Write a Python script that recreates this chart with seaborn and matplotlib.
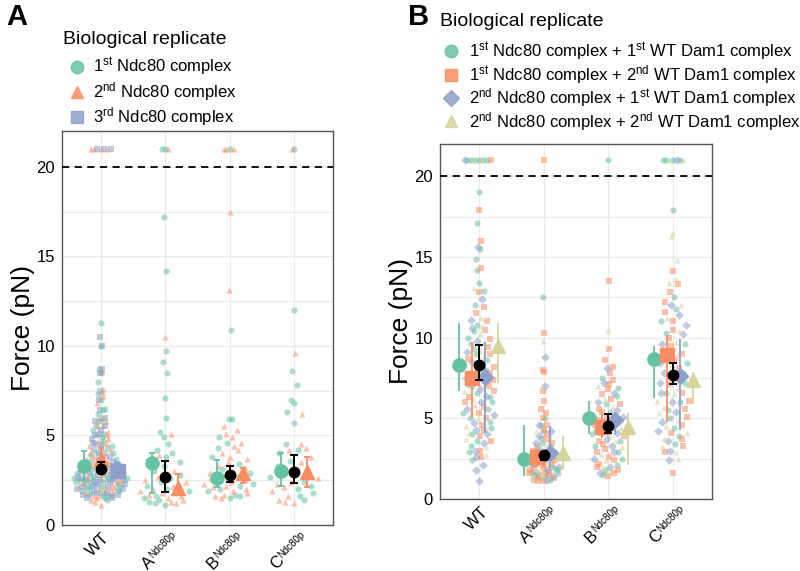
# plot.py
# Rupture force per Ndc80 variant, split by biological replicate (panels A and B)

import numpy as np
import pandas as pd
import matplotlib
matplotlib.use("Agg")
import matplotlib.pyplot as plt
from matplotlib.lines import Line2D
from matplotlib.collections import PathCollection
import seaborn as sns

categories = ["WT", "A", "B", "C"]
tick_base = ["WT", "A", "B", "C"]
tick_sup = ["", "Ndc80p", "Ndc80p", "Ndc80p"]

# ── Panel A: raw forces (values > 20 pN drawn at 21) ─────────────────────────
a_wt_1 = [11.3, 10.0, 8.7, 8.5, 8.0, 7.3, 7.0, 6.5, 6.4, 6.2, 5.9, 5.8, 5.6, 5.3, 5.1, 5.0, 4.9, 4.7, 4.5, 4.4,
          4.3, 4.1, 4.0, 3.9, 3.8, 3.7, 3.6, 3.5, 3.5, 3.4, 3.3, 3.3, 3.2, 3.1, 3.1, 3.0, 3.0, 2.9, 2.9, 2.8,
          2.8, 2.7, 2.7, 2.6, 2.6, 2.5, 2.5, 2.5, 2.5, 2.4, 2.4, 2.4, 2.3, 2.3, 2.2, 2.2, 2.1, 2.1, 2.0, 2.0,
          1.9, 1.9, 1.8, 1.8, 1.7, 1.7, 1.6, 1.5, 1.4]
a_wt_2 = [21, 21, 21, 21, 8.6, 7.6, 7.4, 7.2, 6.8, 6.0, 5.8, 5.6, 5.5, 5.2, 5.0, 4.8, 4.7, 4.6, 4.4, 4.2,
          4.0, 3.9, 3.8, 3.7, 3.6, 3.5, 3.4, 3.4, 3.3, 3.2, 3.1, 3.0, 3.0, 2.9, 2.8, 2.8, 2.7, 2.6, 2.6, 2.5,
          2.4, 2.4, 2.3, 2.2, 2.2, 2.1, 2.0, 2.0, 1.9, 1.8, 1.8, 1.7, 1.6, 1.5, 1.4, 1.3, 1.1]
a_wt_3 = [21, 21, 21, 10.5, 10.0, 8.7, 8.5, 7.5, 7.0, 6.4, 6.0, 5.8, 5.5, 5.3, 5.1, 5.0, 4.8, 4.6, 4.5, 4.3,
          4.2, 4.0, 3.9, 3.8, 3.6, 3.5, 3.4, 3.3, 3.2, 3.1, 3.0, 3.0, 2.9, 2.8, 2.8, 2.7, 2.6, 2.6, 2.5, 2.5,
          2.5, 2.4, 2.4, 2.3, 2.3, 2.2, 2.1, 2.1, 2.0, 2.0, 1.9, 1.8, 1.8, 1.7, 1.7, 1.6, 1.5, 1.5]
a_a_1 = [21, 21, 17.2, 14.2, 9.7, 9.1, 8.5, 7.1, 6.0, 5.2, 4.9, 4.5, 4.2, 4.0, 3.8, 3.5, 3.3, 3.0, 2.8, 2.6,
         2.4, 2.2, 2.0, 1.9, 1.8, 1.6, 1.5, 1.4, 1.3, 1.2, 1.1]
a_a_2 = [21, 10.5, 5.1, 3.9, 3.5, 3.0, 2.7, 2.5, 2.4, 2.2, 2.1, 2.0, 1.9, 1.8, 1.7, 1.6, 1.5, 1.4, 1.3, 1.2]
a_b_1 = [21, 10.9, 5.9, 5.9, 4.9, 4.6, 4.3, 3.8, 3.4, 3.1, 2.9, 2.7, 2.5, 2.3, 2.2, 2.0, 1.9, 1.7, 1.6, 1.5]
a_b_2 = [21, 21, 21, 17.5, 13.1, 5.5, 5.3, 5.1, 4.9, 4.6, 4.4, 4.2, 4.0, 3.8, 3.7, 3.5, 3.3, 3.2, 3.0, 2.9,
         2.8, 2.6, 2.5, 2.4, 2.3, 2.2, 2.1, 2.0, 1.9, 1.8, 1.7, 1.6, 1.5]
a_c_1 = [21, 12.0, 8.6, 7.8, 7.0, 6.8, 6.3, 5.7, 4.5, 4.2, 4.0, 3.6, 3.3, 3.0, 2.7, 2.4, 2.2, 2.0, 1.8, 1.6, 1.4]
a_c_2 = [21, 9.6, 6.2, 4.5, 4.3, 4.2, 3.8, 3.5, 3.2, 2.9, 2.6, 2.4, 2.3, 2.1, 1.9, 1.6, 1.4, 1.3, 1.2]

# replicate summaries (marker, lower, upper) per category
a_mean_1, a_lo_1, a_hi_1 = [3.3, 3.45, 2.65, 3.0], [2.5, 1.8, 2.1, 2.2], [4.15, 4.0, 3.65, 4.0]
a_mean_2, a_lo_2, a_hi_2 = [3.7, 2.05, 2.9, 2.95], [3.2, 1.65, 2.35, 2.1], [4.3, 2.85, 3.2, 3.8]
a_mean_3, a_lo_3, a_hi_3 = [3.0, np.nan, np.nan, np.nan], [2.6, np.nan, np.nan, np.nan], [3.45, np.nan, np.nan, np.nan]
a_all, a_all_lo, a_all_hi = [3.15, 2.7, 2.8, 2.95], [2.9, 1.85, 2.4, 2.35], [3.5, 3.55, 3.3, 3.9]

# ── Panel B ──────────────────────────────────────────────────────────────────
b_wt_1 = [21, 21, 21, 21, 21, 21, 19.0, 17.1, 15.5, 14.9, 14.2, 13.4, 12.9, 12.0, 10.8, 10.4, 10.0, 9.6, 9.3,
          9.0, 8.6, 8.3, 8.0, 7.7, 7.3, 7.0, 6.6, 6.3, 6.0, 5.6, 5.3, 5.0, 4.8, 4.4, 4.0, 3.6, 3.3, 2.9, 2.4]
b_wt_2 = [21, 17.9, 16.0, 14.3, 12.8, 11.9, 11.5, 11.0, 10.5, 9.9, 9.4, 9.0, 8.7, 8.2, 7.8, 7.4, 7.0, 6.7,
          6.3, 6.0, 5.7, 5.3, 5.0, 4.6, 4.3, 3.9, 3.6, 3.0, 2.6]
b_wt_3 = [21, 15.6, 12.4, 11.1, 10.6, 9.8, 9.1, 8.5, 8.0, 7.5, 7.1, 6.8, 6.4, 6.0, 5.6, 5.2, 4.7, 4.3, 4.0,
          3.5, 3.0, 2.6, 2.1, 1.8, 1.1]
b_wt_4 = [21, 21, 13.1, 11.2, 10.7, 10.2, 9.7, 9.2, 8.8, 8.4, 7.9, 7.5, 7.1, 6.7, 6.2, 5.8, 5.4, 5.0, 4.5,
          4.1, 3.7, 3.2, 2.7]
b_a_1 = [12.5, 5.0, 4.6, 4.2, 3.8, 3.5, 3.2, 2.9, 2.6, 2.4, 2.2, 2.0, 1.9, 1.8, 1.7, 1.6, 1.5, 1.4, 1.3, 1.2]
b_a_2 = [21, 10.3, 8.0, 7.9, 6.7, 6.1, 5.6, 5.3, 5.0, 4.6, 4.3, 4.0, 3.7, 3.5, 3.2, 3.0, 2.8, 2.6, 2.4, 2.2,
         2.1, 2.0, 1.9, 1.8, 1.7, 1.6, 1.6, 1.5, 1.4, 1.3, 1.2, 1.1, 1.1]
b_a_3 = [8.8, 7.0, 4.6, 4.2, 3.9, 3.5, 3.1, 2.8, 2.5, 2.2, 2.0, 1.8, 1.6, 1.4, 1.2]
b_a_4 = [9.8, 7.0, 4.2, 3.8, 3.4, 3.0, 2.7, 2.4, 2.2, 2.0, 1.8, 1.7, 1.6, 1.5, 1.3]
b_b_1 = [21, 7.5, 6.9, 6.4, 5.9, 5.4, 5.0, 4.7, 4.3, 4.0, 3.6, 3.3, 2.9, 2.5, 2.1, 1.8, 1.5]
b_b_2 = [13.5, 9.3, 8.6, 8.2, 7.8, 7.4, 7.1, 6.8, 6.5, 6.2, 5.9, 5.6, 5.4, 5.1, 4.9, 4.6, 4.4, 4.1, 3.9,
         3.6, 3.4, 3.1, 2.9, 2.6, 2.4, 2.2, 2.0, 1.8, 1.6, 1.4]
b_b_3 = [8.1, 7.2, 6.6, 6.0, 5.5, 5.1, 4.8, 4.4, 4.1, 3.7, 3.3, 2.9, 2.5, 2.0, 1.6]
b_b_4 = [10.5, 7.0, 6.2, 5.7, 5.2, 4.8, 4.4, 4.0, 3.6, 3.2, 2.8, 2.4, 2.0, 1.7]
b_c_1 = [21, 21, 21, 21, 17.9, 12.5, 11.8, 11.0, 10.3, 9.6, 9.0, 8.4, 7.8, 7.2, 6.6, 6.0, 5.5, 5.0, 4.4, 3.9, 3.4]
b_c_2 = [14.1, 13.3, 12.8, 12.2, 11.6, 11.0, 10.5, 10.0, 9.5, 9.0, 8.6, 8.1, 7.6, 7.1, 6.6, 6.1, 5.6, 5.1,
         4.6, 4.1, 3.7, 3.3, 2.9, 1.6]
b_c_3 = [21, 12.0, 11.4, 10.8, 10.2, 9.6, 9.0, 8.4, 7.8, 7.2, 6.6, 6.0, 5.4, 4.8, 4.2, 3.6, 3.0, 2.4]
b_c_4 = [21, 21, 16.5, 16.3, 14.8, 13.6, 13.4, 12.0, 11.2, 10.4, 9.7, 9.0, 8.3, 7.6, 6.9, 6.5, 6.1, 5.7,
         5.3, 4.9, 4.5, 4.1, 3.7, 3.3, 2.9, 2.5]

b_mean_1, b_lo_1, b_hi_1 = [8.3, 2.5, 5.05, 8.65], [6.7, 1.45, 4.05, 6.25], [10.9, 4.6, 6.05, 9.5]
b_mean_2, b_lo_2, b_hi_2 = [7.5, 2.6, 4.45, 8.9], [5.0, 2.0, 3.8, 4.75], [9.7, 3.0, 5.4, 10.1]
b_mean_3, b_lo_3, b_hi_3 = [7.55, 2.85, 4.9, 7.65], [4.1, 1.9, 4.0, 4.3], [9.7, 4.5, 5.4, 9.9]
b_mean_4, b_lo_4, b_hi_4 = [9.5, 2.85, 4.45, 7.35], [7.2, 1.8, 2.1, 5.9], [10.9, 3.9, 5.3, 7.9]
b_all, b_all_lo, b_all_hi = [8.3, 2.7, 4.55, 7.7], [7.4, 2.4, 4.1, 7.15], [9.55, 2.85, 5.25, 8.45]

a_labels = [r"1$^{\mathrm{st}}$ Ndc80 complex", r"2$^{\mathrm{nd}}$ Ndc80 complex", r"3$^{\mathrm{rd}}$ Ndc80 complex"]
b_labels = [r"1$^{\mathrm{st}}$ Ndc80 complex + 1$^{\mathrm{st}}$ WT Dam1 complex",
            r"1$^{\mathrm{st}}$ Ndc80 complex + 2$^{\mathrm{nd}}$ WT Dam1 complex",
            r"2$^{\mathrm{nd}}$ Ndc80 complex + 1$^{\mathrm{st}}$ WT Dam1 complex",
            r"2$^{\mathrm{nd}}$ Ndc80 complex + 2$^{\mathrm{nd}}$ WT Dam1 complex"]

colors = ["#66c2a5", "#fc8d62", "#8da0cb", "#d5d59a"]
a_markers = ["o", "^", "s"]
b_markers = ["o", "s", "D", "^"]


def to_frame(rep_lists):
    rows = []
    for r, lists in enumerate(rep_lists):
        for cat, vals in zip(categories, lists):
            for v in vals:
                rows.append((cat, v, r))
    return pd.DataFrame(rows, columns=["cat", "force", "rep"])


def vdc(n, base=2):
    v, denom = 0.0, 1.0
    while n:
        n, r = divmod(n, base)
        denom *= base
        v += r / denom
    return v


def quasirandom(ax, width):
    # spread points sideways in proportion to local density (beeswarm-like)
    cols = [c for c in ax.collections if isinstance(c, PathCollection)]
    offs = [np.asarray(c.get_offsets(), float).copy() for c in cols]
    pts = np.vstack([o for o in offs if len(o)])
    new_x = pts[:, 0].copy()
    cats = np.round(pts[:, 0])
    for cat in np.unique(cats):
        for top, w in ((False, width), (True, 0.24)):
            idx = np.where((cats == cat) & ((pts[:, 1] > 20) == top))[0]
            if len(idx) == 0:
                continue
            ys = pts[idx, 1]
            if top:
                dens = np.ones(len(ys)) * min(1.0, len(ys) / 8)
            else:
                iqr = np.percentile(ys, 75) - np.percentile(ys, 25)
                bw = 0.9 * min(ys.std(), iqr / 1.34) * len(ys) ** -0.2
                dens = np.exp(-0.5 * ((ys[:, None] - ys[None, :]) / bw) ** 2).sum(axis=1)
                dens = dens / dens.max()
            order = np.argsort(ys, kind="stable")
            u = np.empty(len(ys))
            u[order] = [vdc(i + 1) for i in range(len(ys))]
            new_x[idx] = cat + (2 * u - 1) * w * dens
    start = 0
    for c, o in zip(cols, offs):
        n = len(o)
        if n:
            o[:, 0] = new_x[start:start + n]
            c.set_offsets(o)
        start += n


def label_ticks(ax):
    # rotated tick labels with a small superscript, like the original figure
    ax.set_xticks(range(len(categories)))
    ax.set_xticklabels([])
    tr = ax.get_xaxis_transform()
    kw = dict(xycoords=tr, textcoords="offset points", rotation=45, rotation_mode="anchor",
              ha="right", va="top", annotation_clip=False)
    for i, (base, sup) in enumerate(zip(tick_base, tick_sup)):
        if sup:
            ax.annotate(sup, xy=(i, 0), xytext=(4, -3.5), fontsize=7, **kw)
            ax.annotate(base, xy=(i, 0), xytext=(4 - 17, -3.5 - 17), fontsize=12, **kw)
        else:
            ax.annotate(base, xy=(i, 0), xytext=(1, -4), fontsize=12, **kw)


def draw_panel(ax, rep_lists, markers, means, los, his, all_mean, all_lo, all_hi, caps, spread):
    df = to_frame(rep_lists)
    for r in range(len(rep_lists)):
        sns.stripplot(data=df[df["rep"] == r], x="cat", y="force", order=categories,
                      color=colors[r], marker=markers[r], size=4.4, alpha=0.55,
                      linewidth=0, jitter=False, ax=ax, zorder=2)
    quasirandom(ax, spread)

    # replicate summaries, dodged like position_dodge(0.8)
    for i in range(len(categories)):
        present = [r for r in range(len(means)) if not np.isnan(means[r][i])]
        n = len(present)
        for k, r in enumerate(present):
            x = i + (k - (n - 1) / 2) * 0.8 / n
            m = means[r][i]
            ax.errorbar([x], [m], yerr=[[m - los[r][i]], [his[r][i] - m]], fmt=markers[r],
                        color=colors[r], ms=9.5 if markers[r] != "D" else 8.5, elinewidth=1.3,
                        capsize=caps, capthick=1.3, zorder=4)
    m = np.array(all_mean)
    ax.errorbar(range(len(categories)), m, yerr=[m - np.array(all_lo), np.array(all_hi) - m],
                fmt="o", color="black", ms=7.5, elinewidth=1.4, capsize=3, capthick=1.4, zorder=5)

    ax.axhline(20, color="black", ls=(0, (4, 3)), lw=1.3, zorder=3)
    ax.set_xlim(-0.6, 3.6)
    ax.set_ylim(0, 22)
    ax.set_yticks([0, 5, 10, 15, 20])
    ax.set_yticks([2.5, 7.5, 12.5, 17.5], minor=True)
    ax.grid(True, which="both", color="#ebebeb", lw=1)
    ax.set_axisbelow(True)
    label_ticks(ax)
    ax.tick_params(axis="y", labelsize=12, pad=2)
    ax.tick_params(which="major", length=3, color="#4d4d4d", width=1)
    ax.tick_params(which="minor", length=0)
    ax.set_xlabel("")
    ax.set_ylabel("Force (pN)", fontsize=19, labelpad=1)
    for s in ax.spines.values():
        s.set_visible(True)
        s.set_color("#555555")
        s.set_linewidth(1)


sns.set_theme(style="whitegrid")
plt.rcParams["font.family"] = ["Liberation Sans", "DejaVu Sans"]
plt.rcParams["mathtext.fontset"] = "custom"
plt.rcParams["mathtext.rm"] = "Liberation Sans"
plt.rcParams["mathtext.it"] = "Liberation Sans:italic"
plt.rcParams["mathtext.bf"] = "Liberation Sans:bold"
for key in ["text.color", "axes.labelcolor", "xtick.color", "ytick.color"]:
    plt.rcParams[key] = "black"

fig = plt.figure(figsize=(8, 5.71), dpi=100)
axA = fig.add_axes([0.0775, 0.0806, 0.3387, 0.69])
axB = fig.add_axes([0.55, 0.126, 0.34, 0.622])

draw_panel(axA, [[a_wt_1, a_a_1, a_b_1, a_c_1], [a_wt_2, a_a_2, a_b_2, a_c_2], [a_wt_3, [], [], []]],
           a_markers, [a_mean_1, a_mean_2, a_mean_3], [a_lo_1, a_lo_2, a_lo_3], [a_hi_1, a_hi_2, a_hi_3],
           a_all, a_all_lo, a_all_hi, caps=2, spread=0.42)
draw_panel(axB, [[b_wt_1, b_a_1, b_b_1, b_c_1], [b_wt_2, b_a_2, b_b_2, b_c_2],
                 [b_wt_3, b_a_3, b_b_3, b_c_3], [b_wt_4, b_a_4, b_b_4, b_c_4]],
           b_markers, [b_mean_1, b_mean_2, b_mean_3, b_mean_4], [b_lo_1, b_lo_2, b_lo_3, b_lo_4],
           [b_hi_1, b_hi_2, b_hi_3, b_hi_4], b_all, b_all_lo, b_all_hi, caps=0, spread=0.26)

# legends (titles as separate text so the gap under them can be set)
fig.text(0.079, 0.930, "Biological replicate", fontsize=14, va="center", ha="left")
hA = [Line2D([], [], ls="", marker=m, color=c, ms=9, alpha=0.85) for m, c in zip(a_markers, colors)]
fig.legend(hA, a_labels, loc="upper left", bbox_to_anchor=(0.073, 0.917),
           frameon=False, fontsize=12, borderpad=0,
           handletextpad=0.4, labelspacing=0.12, handlelength=1.2)

fig.text(0.55, 0.963, "Biological replicate", fontsize=14, va="center", ha="left")
hB = [Line2D([], [], ls="", marker=m, color=c, ms=9 if m != "D" else 8, alpha=0.85)
      for m, c in zip(b_markers, colors)]
fig.legend(hB, b_labels, loc="upper left", bbox_to_anchor=(0.541, 0.944),
           frameon=False, fontsize=12, borderpad=0,
           handletextpad=0.5, labelspacing=0.02, handlelength=1.2)

fig.text(0.008, 0.995, "A", fontsize=21, fontweight="bold", va="top")
fig.text(0.51, 0.995, "B", fontsize=21, fontweight="bold", va="top")

fig.savefig("out.png", dpi=100)
print("Saved: out.png")
